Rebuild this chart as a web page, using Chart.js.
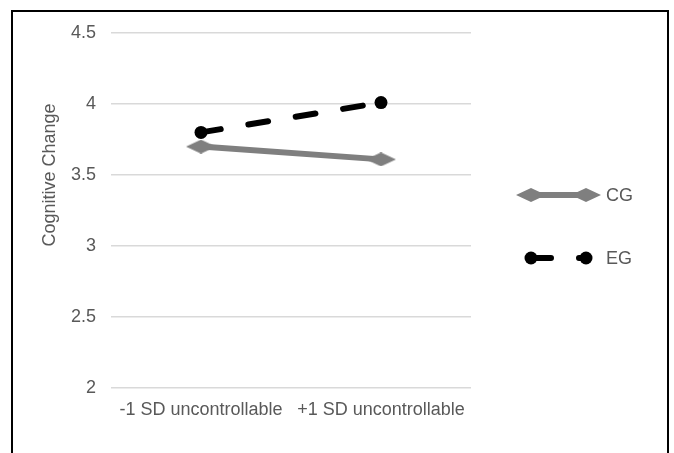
<!DOCTYPE html>
<html>
<head>
<meta charset="utf-8">
<script src="https://cdn.jsdelivr.net/npm/chart.js@4/dist/chart.umd.min.js"></script>
<style>
  html, body { margin: 0; padding: 0; background: #fff; }
  #wrap { position: relative; width: 674px; height: 453px; overflow: hidden; }
  #frame { position: absolute; left: 11px; top: 10px; width: 658px; height: 470px; border: 2px solid #000; box-sizing: border-box; }
  #c { position: absolute; left: 0; top: 0; }
</style>
</head>
<body>
<div id="wrap">
  <div id="frame"></div>
  <canvas id="c" width="674" height="453"></canvas>
</div>
<script>
// --- data ---
const categories = ['-1 SD uncontrollable', '+1 SD uncontrollable'];
const cgValues = [3.70, 3.61];
const egValues = [3.80, 4.01];
const yTicks = [2, 2.5, 3, 3.5, 4, 4.5];
const yTitle = 'Cognitive Change';

const TEXT = '#595959';
const FONT = 'Liberation Sans, Arial, sans-serif';

// flat diamond marker like the Excel one
function diamond(w, h, color) {
    const cv = document.createElement('canvas');
    cv.width = w; cv.height = h;
    const g = cv.getContext('2d');
    g.fillStyle = color;
    g.beginPath();
    g.moveTo(0, h / 2); g.lineTo(w / 2, 0); g.lineTo(w, h / 2); g.lineTo(w / 2, h);
    g.closePath(); g.fill();
    return cv;
}
const diamondImg = diamond(30, 14, '#7f7f7f');

// y title sits a bit above the plot middle in the original
const yTitlePlugin = {
    id: 'yTitlePlugin',
    afterDraw(chart) {
        const ctx = chart.ctx;
        ctx.save();
        ctx.translate(50, 175);
        ctx.rotate(-Math.PI / 2);
        ctx.fillStyle = TEXT;
        ctx.font = '18px ' + FONT;
        ctx.textAlign = 'center';
        ctx.textBaseline = 'middle';
        ctx.fillText(yTitle, 0, 0);
        ctx.restore();
    }
};

// legend drawn on the right, line with a marker at each end
const sideLegend = {
    id: 'sideLegend',
    afterDraw(chart) {
        const ctx = chart.ctx;
        const rows = [195, 258];
        chart.data.datasets.forEach((ds, i) => {
            const y = rows[i];
            const x0 = 531, x1 = 586;
            ctx.save();
            ctx.strokeStyle = ds.borderColor;
            ctx.lineWidth = ds.borderWidth;
            ctx.lineCap = ds.borderCapStyle || 'butt';
            ctx.setLineDash(ds.borderDash || []);
            ctx.beginPath(); ctx.moveTo(x0, y); ctx.lineTo(x1, y); ctx.stroke();
            ctx.restore();
            if (ds.pointStyle === 'circle') {
                ctx.save();
                ctx.fillStyle = ds.pointBackgroundColor;
                [x0, x1].forEach(x => { ctx.beginPath(); ctx.arc(x, y, ds.pointRadius, 0, Math.PI * 2); ctx.fill(); });
                ctx.restore();
            } else {
                [x0, x1].forEach(x => Chart.helpers.drawPoint(ctx, {
                    pointStyle: ds.pointStyle, radius: ds.pointRadius, rotation: 0, borderWidth: 0
                }, x, y));
            }
            ctx.save();
            ctx.fillStyle = TEXT;
            ctx.font = '18px ' + FONT;
            ctx.textBaseline = 'middle';
            ctx.fillText(ds.label, 606, y + 1);
            ctx.restore();
        });
    }
};

new Chart(document.getElementById('c'), {
    type: 'line',
    data: {
        labels: categories,
        datasets: [
            { label: 'CG', data: cgValues, borderColor: '#7f7f7f', borderWidth: 6,
              pointStyle: diamondImg, pointRadius: 7, pointHoverRadius: 7 },
            { label: 'EG', data: egValues, borderColor: '#000', borderWidth: 6,
              borderDash: [20, 28], borderCapStyle: 'round',
              pointStyle: 'circle', pointRadius: 6.5, pointHoverRadius: 6.5,
              pointBackgroundColor: '#000', pointBorderColor: '#000', pointBorderWidth: 0 }
        ]
    },
    options: {
        responsive: false,
        animation: false,
        layout: { padding: { left: 0, top: 33, right: 203, bottom: 0 } },
        plugins: { legend: { display: false }, tooltip: { enabled: false } },
        elements: { line: { tension: 0 } },
        scales: {
            x: {
                offset: true,
                afterFit: s => { s.height = 65; },
                grid: { display: false, drawTicks: false, offset: true },
                border: { display: false },
                ticks: { color: TEXT, font: { family: FONT, size: 18 }, padding: 11, maxRotation: 0, autoSkip: false }
            },
            y: {
                min: 2, max: 4.5,
                afterFit: s => { s.width = 111; },
                afterBuildTicks: s => { s.ticks = yTicks.map(v => ({ value: v })); },
                grid: { color: '#d9d9d9', lineWidth: 1.5, drawTicks: false },
                border: { display: false },
                ticks: { color: TEXT, font: { family: FONT, size: 18 }, padding: 15,
                         callback: v => String(v) }
            }
        }
    },
    plugins: [yTitlePlugin, sideLegend]
});
</script>
</body>
</html>
